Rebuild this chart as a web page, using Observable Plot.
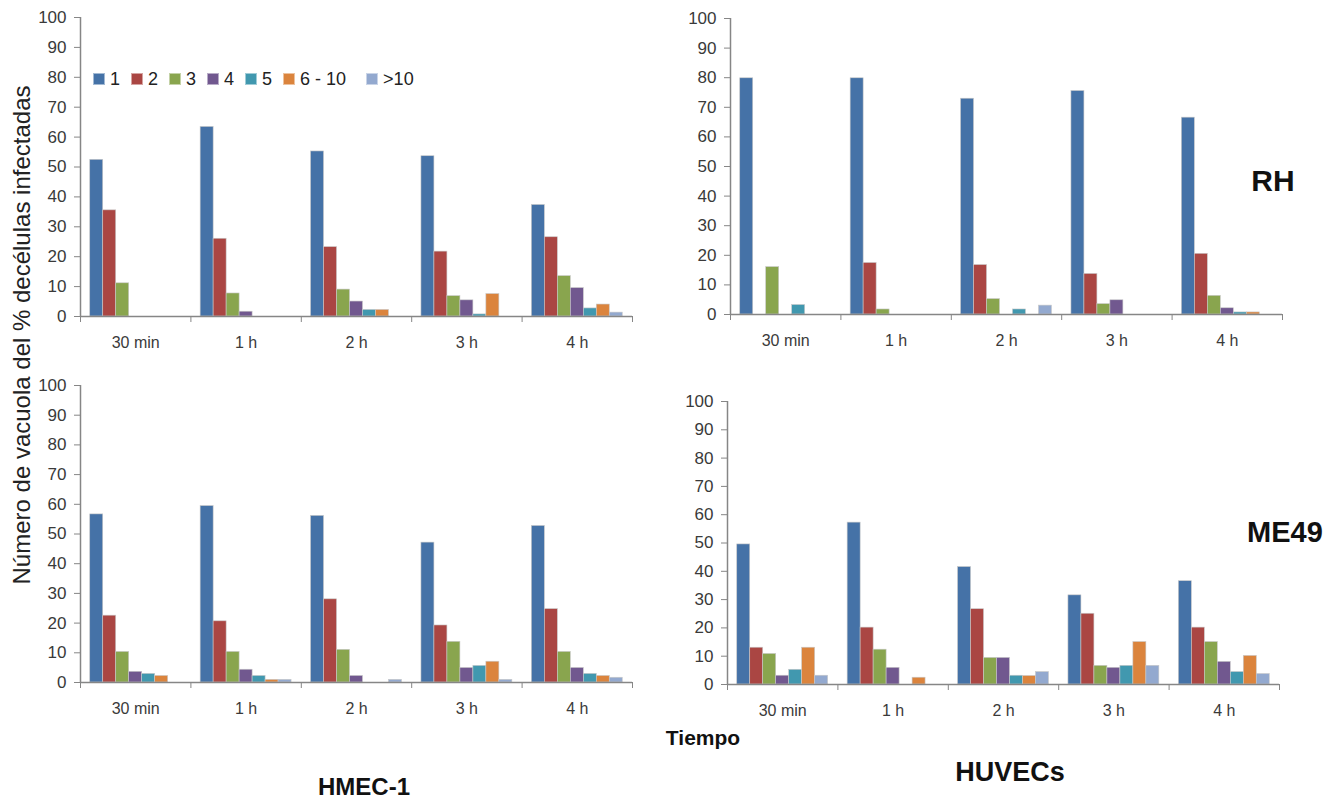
<!DOCTYPE html>
<html><head><meta charset="utf-8">
<script src="https://cdn.jsdelivr.net/npm/d3@7"></script>
<script src="https://cdn.jsdelivr.net/npm/@observablehq/plot@0.6"></script>
<style>
body{margin:0;background:#fff;}
#chart{position:relative;width:1342px;height:803px;overflow:hidden;font-family:"Liberation Sans",Arial,sans-serif;}
.panel{position:absolute;}
.panel svg text{fill:#3a3a3a;}
.lbl{position:absolute;white-space:nowrap;transform:translate(-50%,-50%);font-weight:bold;color:#111;line-height:1;}
#ylabel{position:absolute;left:22px;top:335px;white-space:nowrap;transform:translate(-50%,-50%) rotate(-90deg);font-size:24px;color:#222;line-height:1;}
#legend{position:absolute;left:93px;top:70px;display:flex;align-items:center;font-size:18px;color:#222;line-height:1;}
#legend .item{display:flex;align-items:center;margin-right:11px;}
#legend .sw{width:12px;height:12px;margin-right:5px;box-sizing:border-box;border:1px solid rgba(255,255,255,0.5);}
</style></head><body><div id="chart"></div>
<script>
const times = ["30 min", "1 h", "2 h", "3 h", "4 h"];
const classes = ["1", "2", "3", "4", "5", "6 - 10", ">10"];
const colors = ["#4572A7", "#AA4643", "#89A54E", "#71588F", "#4198AF", "#DB843D", "#93A9CF"];
const yTicks = [0, 10, 20, 30, 40, 50, 60, 70, 80, 90, 100];

// rows = time points, columns = vacuole classes (% of infected cells)
const rhHMEC = [
  [52.4, 35.5, 11.1, 0, 0, 0, 0],
  [63.4, 26.0, 7.7, 1.6, 0, 0, 0],
  [55.2, 23.2, 9.0, 5.0, 2.2, 2.2, 0],
  [53.6, 21.7, 6.8, 5.4, 0.7, 7.5, 0],
  [37.3, 26.5, 13.5, 9.5, 2.7, 4.0, 1.3]
];
const rhHUVEC = [
  [79.8, 0, 16.0, 0, 3.2, 0, 0],
  [79.8, 17.4, 1.7, 0, 0, 0, 0],
  [72.9, 16.7, 5.2, 0, 1.7, 0, 3.0],
  [75.5, 13.7, 3.5, 4.8, 0, 0, 0],
  [66.5, 20.5, 6.3, 2.1, 0.7, 0.7, 0]
];
const me49HMEC = [
  [56.6, 22.5, 10.3, 3.6, 2.9, 2.2, 0],
  [59.4, 20.6, 10.3, 4.3, 2.2, 0.9, 0.9],
  [56.1, 28.0, 11.0, 2.2, 0, 0, 0.9],
  [47.1, 19.2, 13.7, 4.9, 5.6, 7.0, 0.9],
  [52.7, 24.7, 10.3, 4.9, 2.9, 2.2, 1.6]
];
const me49HUVEC = [
  [49.5, 13.0, 10.8, 3.1, 5.2, 13.0, 3.1],
  [57.2, 20.1, 12.3, 5.9, 0, 2.4, 0],
  [41.5, 26.6, 9.4, 9.4, 3.1, 3.0, 4.4],
  [31.5, 25.0, 6.6, 5.9, 6.6, 15.0, 6.6],
  [36.5, 20.1, 15.0, 8.0, 4.4, 10.1, 3.7]
];

const GAP = 0.75;                       // half of the gap between clusters, in bar widths
const SLOTS = classes.length + 2 * GAP; // bar widths per time cluster
const chart = document.getElementById("chart");

function panel(values, pos) {
  const rows = values.flatMap((arr, t) => arr.map((v, c) => ({t, c, v})));
  const svg = Plot.plot({
    width: pos.w, height: pos.h,
    marginLeft: pos.ml, marginRight: pos.mr, marginTop: pos.mt, marginBottom: pos.mb,
    style: {fontSize: "17px", fontFamily: "Liberation Sans, Arial, sans-serif", color: "#868686", background: "transparent", overflow: "visible"},
    x: {domain: [0, times.length], ticks: d3.range(times.length + 1), tickFormat: () => "", tickSize: 6, label: null},
    y: {domain: [0, 100], ticks: yTicks, tickSize: 6, tickPadding: 8, label: null},
    marks: [
      Plot.rectY(rows.filter(d => d.v > 0), {
        x1: d => d.t + (GAP + d.c) / SLOTS,
        x2: d => d.t + (GAP + d.c + 1) / SLOTS,
        y1: 0, y2: "v",
        fill: d => colors[d.c],
        stroke: "#c8c8c8", strokeWidth: 0.6
      }),
      Plot.ruleY([0], {stroke: "#868686", strokeWidth: 1.5}),
      Plot.ruleX([0], {stroke: "#868686", strokeWidth: 1.5}),
      Plot.text(times, {x: (d, i) => i + 0.5, y: 0, dy: 26, text: d => d, fill: "#333", fontSize: 16})
    ]
  });
  const div = document.createElement("div");
  div.className = "panel";
  div.style.left = pos.left + "px";
  div.style.top = pos.top + "px";
  div.appendChild(svg);
  chart.appendChild(div);
}

panel(rhHMEC,    {left: 0,   top: 0,   w: 660, h: 370, ml: 80, mr: 28, mt: 17, mb: 54});
panel(rhHUVEC,   {left: 650, top: 0,   w: 660, h: 370, ml: 80, mr: 28, mt: 18, mb: 56});
panel(me49HMEC,  {left: 0,   top: 360, w: 660, h: 370, ml: 80, mr: 28, mt: 25, mb: 48});
panel(me49HUVEC, {left: 647, top: 360, w: 660, h: 370, ml: 80, mr: 28, mt: 41, mb: 46});

// legend
const legend = document.createElement("div");
legend.id = "legend";
classes.forEach((c, i) => {
  const item = document.createElement("div");
  item.className = "item";
  if (c === "6 - 10") item.style.marginRight = "20px";
  const sw = document.createElement("div");
  sw.className = "sw";
  sw.style.background = colors[i];
  const t = document.createElement("span");
  t.textContent = c;
  item.appendChild(sw); item.appendChild(t);
  legend.appendChild(item);
});
chart.appendChild(legend);

function label(text, x, y, size) {
  const d = document.createElement("div");
  d.className = "lbl";
  d.textContent = text;
  d.style.left = x + "px";
  d.style.top = y + "px";
  d.style.fontSize = size + "px";
  chart.appendChild(d);
}
label("RH", 1273, 181, 30);
label("ME49", 1285, 532, 29);
label("Tiempo", 703, 737, 21);
label("HMEC-1", 364, 787, 24);
label("HUVECs", 1010, 772, 27);

const yl = document.createElement("div");
yl.id = "ylabel";
yl.textContent = "Número de vacuola del % decélulas infectadas";
chart.appendChild(yl);
</script>
</body></html>
